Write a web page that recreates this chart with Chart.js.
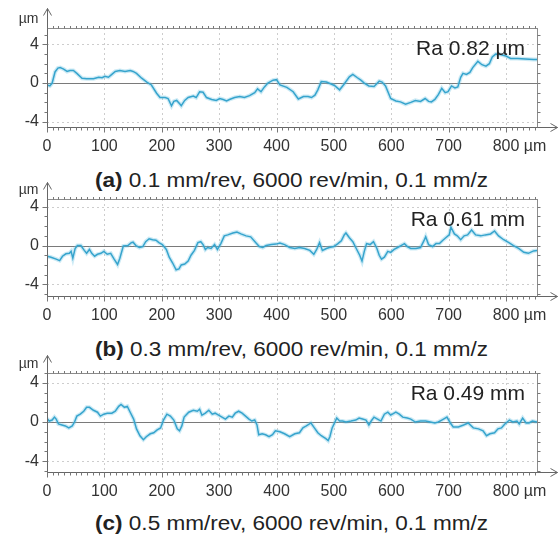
<!DOCTYPE html>
<html>
<head>
<meta charset="utf-8">
<script src="https://cdn.jsdelivr.net/npm/chart.js@4.4.0/dist/chart.umd.min.js"></script>
<style>
  html,body{margin:0;padding:0;background:#fff;}
  #wrap{position:relative;width:559px;height:536px;overflow:hidden;font-family:"Liberation Sans",Arial,sans-serif;}
  canvas{position:absolute;left:0;}
  .cap{position:absolute;left:0;font-size:20px;color:#222;line-height:24px;white-space:nowrap;transform-origin:0 50%;}
</style>
</head>
<body>
<div id="wrap">
  <div class="cap" id="capA" style="top:168px"></div>
  <div class="cap" id="capB" style="top:337px"></div>
  <div class="cap" id="capC" style="top:511px"></div>
  <canvas id="cA" width="559" height="160" style="top:0px"></canvas>
  <canvas id="cB" width="559" height="150" style="top:180px"></canvas>
  <canvas id="cC" width="559" height="155" style="top:352px"></canvas>
</div>
<script>
// ---- data (x in µm, height in µm) ----
const xA = [0,5,9,14,19,23,29,35,40,46,52,61,69,81,90,96,101,107,113,119,127,136,145,150,156,165,174,182,191,197,206,211,217,221,226,232,234,240,246,255,260,266,272,278,287,295,301,307,313,318,327,336,344,353,362,367,373,379,385,394,400,406,418,429,438,447,455,461,467,472,478,487,495,501,510,518,527,533,541,547,553,561,570,579,584,590,599,608,616,625,634,642,651,659,665,670,676,682,688,694,699,705,711,716,721,725,731,737,742,751,758,765,771,776,782,790,800,808,820,834,848,854];
const yA = [-0.2,-0.3,0,1.15,1.55,1.6,1.45,1.2,1.3,1.3,1.0,0.5,0.45,0.45,0.6,0.55,0.7,0.6,0.9,1.2,1.3,1.2,1.3,1.2,1.0,0.5,0.1,-0.2,-1.05,-1.5,-1.5,-1.6,-2.35,-1.9,-1.8,-2.2,-2.35,-1.8,-1.5,-1.35,-1.5,-0.9,-0.95,-1.5,-1.7,-1.8,-1.6,-1.7,-1.85,-1.7,-1.5,-1.4,-1.5,-1.3,-1.0,-0.6,-0.9,-0.4,0,0.3,0.35,-0.2,-0.45,-0.9,-1.65,-1.4,-1.4,-1.5,-1.25,-0.7,0.15,0.1,-0.1,-0.25,-0.7,-0.1,0.65,0.9,0.55,0.3,0,-0.3,-0.35,0.2,0.1,-0.3,-1.6,-1.85,-1.95,-2.2,-2.0,-1.8,-1.9,-1.6,-1.9,-1.95,-1.7,-1.2,-0.55,-1.0,-0.9,-0.3,-0.5,-0.4,0.6,1.0,0.9,1.1,1.6,2.25,1.9,1.75,2.0,2.7,3.0,2.95,2.8,2.55,2.55,2.5,2.45,2.45];

const xB = [0,7,16,22,27,33,39,42,45,49,53,59,65,69,74,78,83,88,94,99,105,111,117,123,127,133,141,147,150,155,161,167,172,178,184,190,195,201,208,213,219,225,230,234,240,246,251,257,263,268,272,276,280,286,292,297,303,309,315,324,331,338,347,355,364,370,376,382,391,399,406,414,423,432,440,449,458,465,470,475,480,487,492,500,507,513,518,521,527,533,539,545,549,553,557,563,569,575,579,583,588,594,599,605,611,617,623,628,634,643,651,657,660,665,672,678,684,689,695,701,704,710,715,721,727,733,740,747,756,764,773,780,787,796,805,813,822,831,839,848,854];
const yB = [-1.1,-1.2,-1.4,-1.55,-1.1,-0.85,-0.8,-0.6,-1.3,-0.3,0,0,-0.5,-0.8,-0.4,-0.8,-1.1,-0.9,-0.8,-0.6,-0.9,-0.8,-1.4,-1.95,-1.3,-0.05,0,0.3,0.35,0,-0.2,-0.1,0.4,0.7,0.6,0.55,0.3,0.1,-0.4,-1.2,-1.8,-2.5,-2.4,-2.0,-1.9,-1.6,-1.0,-0.5,0.3,0.4,0.1,-0.4,-0.2,-0.3,0.1,-0.4,0.2,1.0,1.1,1.3,1.4,1.2,1.0,0.9,0.3,-0.1,-0.2,0,0.1,0.15,0.25,0.1,-0.2,-0.3,-0.2,-0.3,-0.5,-0.9,-0.4,0.3,-0.5,-0.3,-0.2,-0.1,0.2,0.5,1.1,1.3,0.8,0.4,-0.3,-1.0,-1.6,-0.6,0.2,0.1,0.4,-0.3,-1.0,-1.4,-1.2,-0.6,-0.7,-0.4,-0.2,0,0.2,-0.1,-0.3,-0.3,-0.2,0.5,0.9,0.1,-0.1,0.2,0.2,0.5,0.8,1.1,1.9,1.2,1.0,0.6,1.0,1.1,1.6,1.1,1.0,1.1,1.2,1.5,1.0,0.6,0.3,0,-0.3,-0.7,-0.8,-0.55,-0.5];

const xC = [0,4,9,13,16,20,26,32,38,44,48,52,58,64,69,74,81,88,93,99,105,113,119,125,129,135,140,145,151,156,162,168,173,180,186,192,198,203,209,215,221,227,231,235,239,247,255,262,266,270,276,282,288,293,299,305,311,317,323,328,334,340,346,352,357,362,366,369,375,381,387,393,398,406,414,423,432,440,446,452,460,466,472,478,486,490,493,497,501,505,510,515,521,530,538,544,550,556,561,565,570,576,582,588,594,599,608,614,620,628,634,642,651,660,668,676,682,688,694,697,703,708,717,726,734,743,752,760,766,772,780,786,792,798,806,812,819,823,829,835,840,846,854];
const yC = [0.35,0.1,0.2,0.5,0.3,-0.2,-0.3,-0.4,-0.6,-0.4,0,0.6,0.8,1.1,1.5,1.5,1.2,1.0,0.6,0.8,0.9,0.9,1.1,1.6,1.8,1.5,1.6,1.0,0.3,-0.7,-1.4,-1.8,-1.5,-1.2,-1.1,-0.8,-0.6,0.2,0.8,0.6,0.2,-0.7,-0.9,-0.4,0.5,1.0,1.2,1.1,1.3,0.7,0.9,1.2,0.8,0.9,0.7,0.5,0.3,0.6,0.5,0.9,1.1,0.9,0.6,0.3,0.1,0.2,-0.3,-1.3,-1.2,-1.3,-1.5,-1.3,-0.9,-1.0,-1.2,-1.5,-1.2,-1.1,-0.6,-0.4,-0.1,-0.6,-1.1,-1.4,-1.7,-1.9,-1.5,-0.6,-0.1,0.4,0.1,0.1,0,0.1,0.2,0.4,0.3,0.2,-0.3,0.1,0.5,0.3,0.1,0.8,1.0,0.7,1.0,0.8,0.5,0.4,0.3,0,0.1,0.1,0,-0.1,0,0.2,0.4,0.5,-0.1,-0.5,-0.5,-0.3,-0.1,-0.6,-0.7,-0.9,-1.4,-1.2,-1.1,-0.7,-0.6,-0.2,0.2,0,0.1,-0.2,0.4,-0.1,-0.1,0.1,0];

const xTicks = [0,100,200,300,400,500,600,700,800];
const yTicks = [-4,0,4];
const raLabels = ['Ra 0.82 µm','Ra 0.61 mm','Ra 0.49 mm'];
const captionTags = ['(a)','(b)','(c)'];
const captionTexts = [' 0.1 mm/rev, 6000 rev/min, 0.1 mm/z',' 0.3 mm/rev, 6000 rev/min, 0.1 mm/z',' 0.5 mm/rev, 6000 rev/min, 0.1 mm/z'];

const FONT = '"Liberation Sans", Arial, sans-serif';

['capA','capB','capC'].forEach((id,i)=>{
  const el = document.getElementById(id);
  const b = document.createElement('b'); b.textContent = captionTags[i];
  el.appendChild(b); el.appendChild(document.createTextNode(captionTexts[i]));
  const targetW = 393, centerX = 291.5;
  const w = el.getBoundingClientRect().width;
  el.style.left = (centerX - targetW/2) + 'px';
  el.style.transform = 'scaleX(' + (targetW / w) + ')';
});

const decor = {
  id:'decor',
  beforeDatasetsDraw(chart, args, o){
    const {ctx, chartArea:{left,right,top,bottom}, scales:{x,y}} = chart;
    ctx.save();
    ctx.lineWidth = 1;
    ctx.strokeStyle = '#cdcdcd';
    ctx.setLineDash([2,3]);
    xTicks.forEach(v=>{ if(v===0) return;
      const px = Math.round(x.getPixelForValue(v))+0.5;
      ctx.beginPath(); ctx.moveTo(px,top); ctx.lineTo(px,bottom); ctx.stroke(); });
    [4,-4].forEach(v=>{
      const py = Math.round(y.getPixelForValue(v))+0.5;
      ctx.beginPath(); ctx.moveTo(left,py); ctx.lineTo(right,py); ctx.stroke(); });
    ctx.setLineDash([]);
    ctx.strokeStyle = '#7a7a7a'; ctx.lineWidth = 1.2;
    const p0 = Math.round(y.getPixelForValue(0))+0.5;
    ctx.beginPath(); ctx.moveTo(left,p0); ctx.lineTo(right,p0); ctx.stroke();
    ctx.restore();
  },
  afterDatasetsDraw(chart, args, o){
    const {ctx, chartArea, scales:{x,y}} = chart;
    const L = Math.round(chartArea.left)+0.5, R = Math.round(chartArea.right)+0.5;
    const T = Math.round(chartArea.top)+0.5, B = Math.round(chartArea.bottom)+0.5;
    ctx.save();
    ctx.lineWidth = 1;
    ctx.strokeStyle = '#8c8c8c';
    ctx.strokeRect(L,T,R-L,B-T);
    ctx.strokeStyle = '#666';
    ctx.beginPath(); ctx.moveTo(L,B); ctx.lineTo(R,B); ctx.stroke();
    ctx.beginPath(); ctx.moveTo(L,B); ctx.lineTo(L,T); ctx.stroke();
    // minor ticks
    ctx.strokeStyle = '#777';
    for(let v=0; v<=x.max; v+=10){
      const px = Math.round(x.getPixelForValue(v))+0.5;
      const len = v%100===0 ? 5 : 3;
      ctx.beginPath(); ctx.moveTo(px,B); ctx.lineTo(px,B+len); ctx.stroke();
      ctx.beginPath(); ctx.moveTo(px,T); ctx.lineTo(px,T-2.5); ctx.stroke();
    }
    for(let v=Math.ceil(y.min); v<=Math.floor(y.max); v++){
      const py = Math.round(y.getPixelForValue(v))+0.5;
      const len = v%4===0 ? 5 : 3;
      ctx.beginPath(); ctx.moveTo(L,py); ctx.lineTo(L-len,py); ctx.stroke();
      ctx.beginPath(); ctx.moveTo(R,py); ctx.lineTo(R+3,py); ctx.stroke();
    }
    // axis arrows
    ctx.strokeStyle = '#666';
    const tipY = T - o.arrowTop;
    ctx.beginPath(); ctx.moveTo(L,T); ctx.lineTo(L,tipY); ctx.stroke();
    ctx.beginPath(); ctx.moveTo(L-4,tipY+7); ctx.lineTo(L,tipY); ctx.lineTo(L+4,tipY+7); ctx.stroke();
    const tipX = 557.5;
    ctx.beginPath(); ctx.moveTo(R,B); ctx.lineTo(tipX,B); ctx.stroke();
    ctx.beginPath(); ctx.moveTo(tipX-7,B-4); ctx.lineTo(tipX,B); ctx.lineTo(tipX-7,B+4); ctx.stroke();
    // unit on y axis
    ctx.fillStyle = '#333';
    ctx.font = '14px ' + FONT;
    ctx.textAlign = 'right'; ctx.textBaseline = 'middle';
    ctx.fillText('µm', L-9, T-9);
    // unit after last x label
    const items = x.getLabelItems();
    const last = items[items.length-1];
    ctx.font = '16px ' + FONT;
    const w = ctx.measureText(String(last.label)).width;
    ctx.textAlign = 'left';
    ctx.textBaseline = last.options.textBaseline;
    ctx.fillStyle = '#333';
    ctx.fillText(' µm', last.options.translation[0] + w/2, last.options.translation[1] + (last.textOffset || 0));
    // Ra label
    ctx.font = '21px ' + FONT;
    ctx.fillStyle = '#222';
    ctx.textAlign = 'right'; ctx.textBaseline = 'alphabetic';
    ctx.fillText(o.ra, chartArea.right - 12, chartArea.top + 27);
    ctx.restore();
  }
};

function makeChart(id, xs, ys, yMin, yMax, padTop, plotBottom, canvasH, ra, arrowTop){
  const pts = xs.map((v,i)=>({x:v, y:ys[i]}));
  return new Chart(document.getElementById(id), {
    type:'line',
    data:{datasets:[
      {data:pts, borderColor:'rgba(110,195,225,0.35)', borderWidth:4, pointRadius:0, tension:0, fill:false},
      {data:pts, borderColor:'#1a94c2', borderWidth:1.5, pointRadius:0, tension:0, fill:false}
    ]},
    options:{
      responsive:false, animation:false, events:[],
      layout:{padding:{top:padTop, right:22, bottom:0, left:0}},
      plugins:{legend:{display:false}, tooltip:{enabled:false}, title:{display:false},
        decor:{ra:ra, arrowTop:arrowTop}},
      scales:{
        x:{type:'linear', min:0, max:854,
          afterBuildTicks:(s)=>{ s.ticks = xTicks.map(v=>({value:v})); },
          afterFit:(s)=>{ s.height = canvasH - plotBottom; },
          grid:{display:false, drawTicks:false}, border:{display:false},
          ticks:{autoSkip:false, maxRotation:0, padding:10, color:'#333', font:{family:FONT, size:16}}},
        y:{type:'linear', min:yMin, max:yMax,
          afterBuildTicks:(s)=>{ s.ticks = yTicks.map(v=>({value:v})); },
          afterFit:(s)=>{ s.width = 47; },
          grid:{display:false, drawTicks:false}, border:{display:false},
          ticks:{padding:8, color:'#333', font:{family:FONT, size:16}}}
      }
    },
    plugins:[decor]
  });
}

makeChart('cA', xA, yA, -4.55, 5.7, 28, 127, 160, raLabels[0], 20);
makeChart('cB', xB, yB, -5.2, 4.8, 19, 116, 150, raLabels[1], 17);
makeChart('cC', xC, yC, -5.1, 5.0, 21, 120, 155, raLabels[2], 18);
</script>
</body>
</html>
